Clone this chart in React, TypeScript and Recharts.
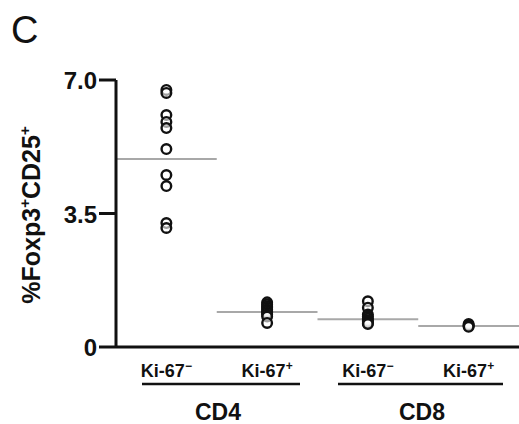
import React from 'react';
import { ComposedChart, Scatter, Line, XAxis, YAxis } from 'recharts';

const categories = ['Ki-67−', 'Ki-67+', 'Ki-67−', 'Ki-67+'];
const tickSigns = ['−', '+', '−', '+'];
const groupLabels = ['CD4', 'CD8'];
const cd4KiNeg = [6.74, 6.66, 6.08, 5.9, 5.74, 5.19, 4.51, 4.22, 3.25, 3.12];
const cd4KiPos = [1.17, 1.12, 1.07, 1.03, 0.98, 0.94, 0.9, 0.85, 0.8, 0.63];
const cd8KiNeg = [1.2, 1.03, 0.85, 0.8, 0.75, 0.7, 0.66, 0.62, 0.6];
const cd8KiPos = [0.6, 0.57, 0.55, 0.53];
const groupMeans = [4.93, 0.92, 0.73, 0.55];
const yTicks = [0, 3.5, 7];
const yTickLabels = ['0', '3.5', '7.0'];

const series = [cd4KiNeg, cd4KiPos, cd8KiNeg, cd8KiPos];
const FONT = '"Liberation Sans", Arial, sans-serif';

const pointData = series.map((vals, i) => vals.map((v) => ({ x: i + 0.5, y: v })));
const meanData = groupMeans.map((m, i) => [
  { x: i, y: m },
  { x: i + 1, y: m },
]);

const Ring = (props: any) => {
  const { cx, cy } = props;
  if (cx == null || cy == null) return null;
  return <circle cx={cx} cy={cy} r={4.8} fill="#fff" fillOpacity={0.6} stroke="#111" strokeWidth={2.4} />;
};

const XTick = (props: any) => {
  const { x, payload } = props;
  const idx = Math.round(payload.value - 0.5);
  return (
    <text x={x} y={377} textAnchor="middle" fontFamily={FONT} fontWeight="bold" fontSize={18} fill="#111">
      Ki-67
      <tspan fontSize={12} dy={-7}>{tickSigns[idx]}</tspan>
    </text>
  );
};

const YTick = (props: any) => {
  const { x, y, payload } = props;
  const idx = yTicks.indexOf(payload.value);
  return (
    <text x={x} y={y + 9} textAnchor="end" fontFamily={FONT} fontWeight="bold" fontSize={24} fill="#111">
      {yTickLabels[idx]}
    </text>
  );
};

export default function App() {
  return (
    <div style={{ position: 'absolute', left: 0, top: 0, width: 519, height: 424, background: '#fff' }}>
      <ComposedChart
        width={519}
        height={424}
        margin={{ top: 80, right: 0, bottom: 0, left: 0 }}
      >
        <XAxis
          type="number"
          dataKey="x"
          domain={[0, 4]}
          ticks={[0.5, 1.5, 2.5, 3.5]}
          tickLine={false}
          axisLine={{ stroke: '#111', strokeWidth: 3 }}
          height={77}
          tick={<XTick />}
          allowDataOverflow
        />
        <YAxis
          type="number"
          dataKey="y"
          domain={[0, 7]}
          ticks={yTicks}
          width={116}
          tickSize={17}
          tickLine={{ stroke: '#111', strokeWidth: 3 }}
          axisLine={{ stroke: '#111', strokeWidth: 3 }}
          tick={<YTick />}
          allowDataOverflow
        />
        {meanData.map((d, i) => (
          <Line
            key={'m' + i}
            data={d}
            dataKey="y"
            stroke="#a8a8a8"
            strokeWidth={2}
            dot={false}
            isAnimationActive={false}
          />
        ))}
        {pointData.map((d, i) => (
          <Scatter key={'s' + i} name={categories[i]} data={d} dataKey="y" shape={<Ring />} isAnimationActive={false} />
        ))}
      </ComposedChart>
      <svg
        width={519}
        height={424}
        style={{ position: 'absolute', left: 0, top: 0, pointerEvents: 'none' }}
      >
        <text x={11} y={43} fontFamily={FONT} fontSize={38} fill="#111">C</text>
        <text
          transform="translate(40,215) rotate(-90)"
          textAnchor="middle"
          fontFamily={FONT}
          fontWeight="bold"
          fontSize={25}
          fill="#111"
        >
          %Foxp3
          <tspan fontSize={15} dy={-10}>+</tspan>
          <tspan dy={10}>CD25</tspan>
          <tspan fontSize={15} dy={-10}>+</tspan>
        </text>
        <line x1={142} x2={300} y1={384} y2={384} stroke="#111" strokeWidth={2.5} />
        <line x1={338} x2={503} y1={384} y2={384} stroke="#111" strokeWidth={2.5} />
        <text x={218} y={420} textAnchor="middle" fontFamily={FONT} fontWeight="bold" fontSize={23} fill="#111">
          {groupLabels[0]}
        </text>
        <text x={422} y={420} textAnchor="middle" fontFamily={FONT} fontWeight="bold" fontSize={23} fill="#111">
          {groupLabels[1]}
        </text>
      </svg>
    </div>
  );
}
